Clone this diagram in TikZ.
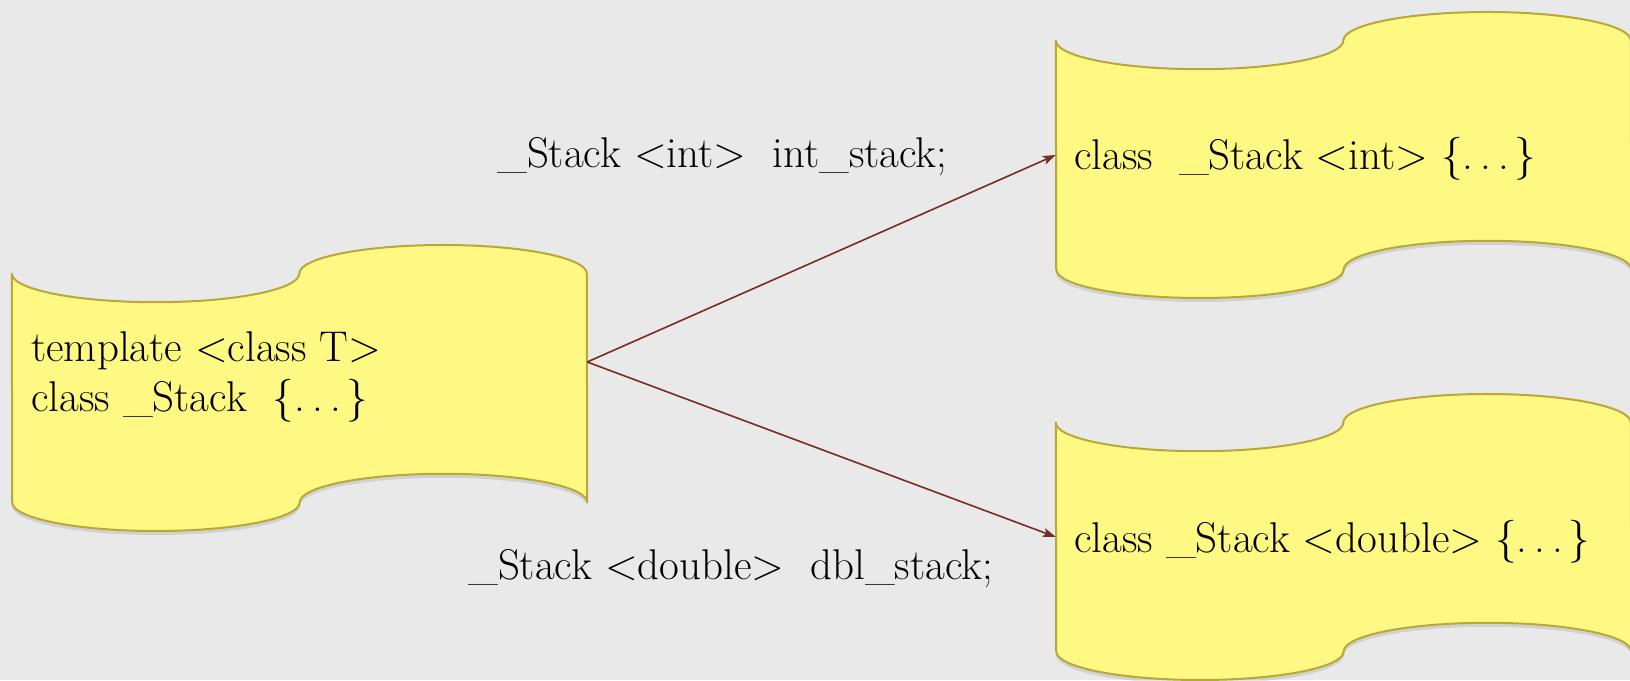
\documentclass[tikz,border=0pt]{standalone}
\usetikzlibrary{arrows.meta,shadows}
\definecolor{bgc}{HTML}{E9E9E9}
\definecolor{tapefill}{HTML}{FFF883}
\definecolor{tapeedge}{HTML}{B8A83A}
\definecolor{arrowc}{HTML}{7A2B22}
\tikzset{
  tapebox/.style={minimum width=575pt, minimum height=286pt, inner sep=0pt, draw=none},
  tapestyle/.style={fill=tapefill, draw=tapeedge, line width=2pt, line join=round,
    drop shadow={shadow xshift=0pt, shadow yshift=-4pt, opacity=0.10, fill=black}},
  code/.style={anchor=base west, font=\fontsize{43}{50}\selectfont, inner sep=0pt},
  arr/.style={draw=arrowc, line width=1.6pt, -{Stealth[length=13pt,width=9pt,inset=3pt]}}
}
\newcommand\mydots{.\kern0.17em.\kern0.17em.\kern0.12em}
\newcommand\tapepath[1]{%
  \path[tapestyle] ([yshift=114.4pt]#1.west)
    arc[start angle=180,end angle=360,x radius=143.75pt,y radius=28.6pt]
    arc[start angle=180,end angle=0,x radius=143.75pt,y radius=28.6pt]
    -- ([yshift=-114.4pt]#1.east)
    arc[start angle=0,end angle=180,x radius=143.75pt,y radius=28.6pt]
    arc[start angle=0,end angle=-180,x radius=143.75pt,y radius=28.6pt]
    -- cycle;}
\begin{document}
\begin{tikzpicture}[x=1pt,y=1pt]
\useasboundingbox (0,0) rectangle (1630,680);
\fill[bgc] (0,0) rectangle (1630,680);
\node[tapebox] (L) at (299.5,292) {};
\node[tapebox] (T) at (1343.5,525) {};
\node[tapebox] (B) at (1343.5,143) {};
\tapepath{L}
\tapepath{T}
\tapepath{B}
\node[code] (Ltxt1) at (31,318) {template <class T>};
\node[code] (Ltxt2) at (31,268) {class \_Stack\ \ \{\mydots\}};
\node[code] (Ttxt) at (1074,510) {class\ \ \_Stack <int> \{\mydots\}};
\node[code] (Btxt) at (1074,127) {class \_Stack <double> \{\mydots\}};
\node[code] (lblint) at (497,512) {\_Stack <int>\ \ int\_stack;};
\node[code] (lbldbl) at (468,100) {\_Stack <double>\ \ dbl\_stack;};
\draw[arr] ([yshift=26pt]L.east) -- (T.west);
\draw[arr] ([yshift=26pt]L.east) -- (B.west);
\end{tikzpicture}
\end{document}
